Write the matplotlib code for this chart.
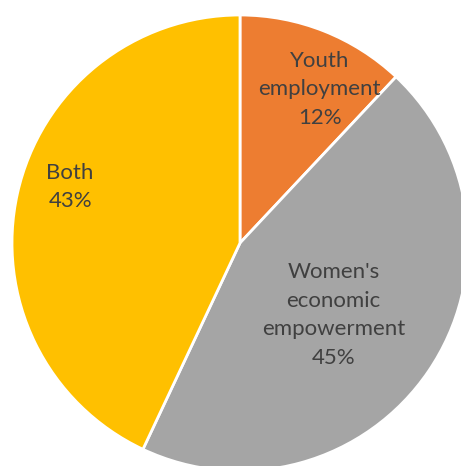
import matplotlib.pyplot as plt

# Programme focus shares (percent)
labels = ["Youth\nemployment", "Women's\neconomic\nempowerment", "Both"]
shares = [12, 45, 43]
colors = ["#ED7D31", "#A5A5A5", "#FFC000"]

# label anchor points in data units (pie radius = 1)
label_pos = [(0.35, 0.675), (0.41, -0.316), (-0.745, 0.245)]

W, H = 461, 466
fig = plt.figure(figsize=(W / 100, H / 100), dpi=100, facecolor="white")

# pie centred at (240, 243) px with radius 228 px; it runs past the right and bottom edges
cx, cy, r = 240, 243, 228
ax = fig.add_axes([(cx - r) / W, (H - cy - r) / H, 2 * r / W, 2 * r / H])

wedges, _ = ax.pie(shares, colors=colors, startangle=90, counterclock=False,
                   radius=1, wedgeprops=dict(edgecolor="white", linewidth=2))
ax.set_xlim(-1, 1)
ax.set_ylim(-1, 1)
ax.set_aspect("equal")
ax.axis("off")

for lab, val, (x, y) in zip(labels, shares, label_pos):
    ax.text(x, y, f"{lab}\n{val}%", ha="center", va="center", color="#404040",
            fontsize=16, family="Lato", linespacing=1.53)

fig.savefig("out.png", dpi=100, facecolor="white")
